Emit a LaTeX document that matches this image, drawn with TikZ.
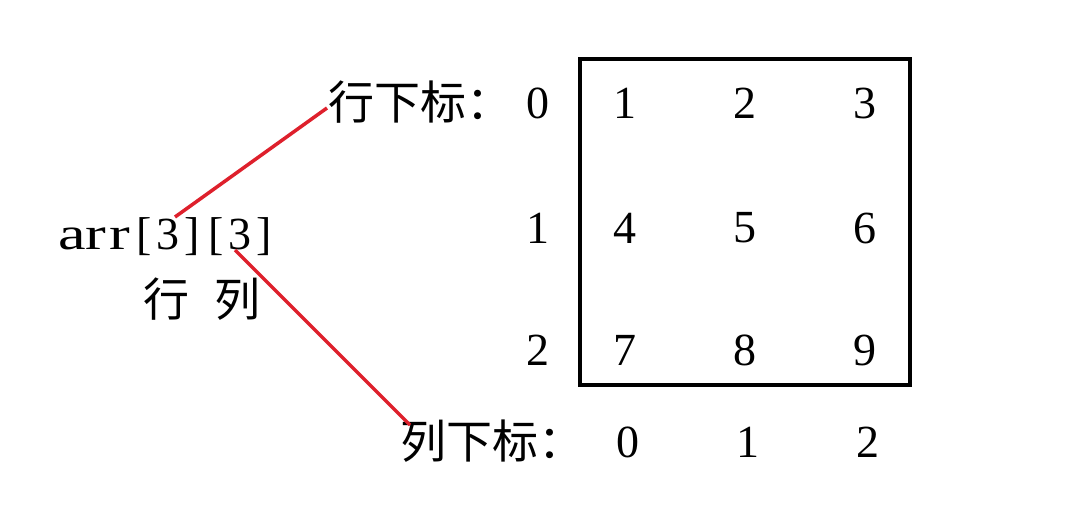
\documentclass[tikz,border=0pt]{standalone}
\usepackage{fontspec}
\setmainfont{Liberation Serif}
\newfontfamily\cjk{Noto Sans CJK SC}
\definecolor{linered}{RGB}{222,32,44}
\newcommand\mcell[1]{\makebox[24pt]{#1}}
\newcommand\wcell[1]{\makebox[24pt]{\scalebox{1.35}[1]{#1}}}
\begin{document}
\begin{tikzpicture}[x=1pt,y=-1pt,
  num/.style={inner sep=0pt,font=\fontsize{46}{46}\selectfont},
  zh/.style={inner sep=0pt,font=\cjk\fontsize{46}{46}\selectfont},
  code/.style={inner sep=0pt,font=\fontsize{46}{46}\selectfont},
  redline/.style={draw=linered,line width=3.5pt},
  frame/.style={draw=black,line width=4pt}]
\useasboundingbox[fill=white] (0,0) rectangle (1071,521);
% matrix frame
\node[frame,minimum width=330pt,minimum height=326pt,inner sep=0pt] (box) at (745,222) {};
% entries
\node[num] (e1) at (625,103) {1};
\node[num] (e2) at (745,103) {2};
\node[num] (e3) at (865,103) {3};
\node[num] (e4) at (625,228) {4};
\node[num] (e5) at (745,228) {5};
\node[num] (e6) at (865,228) {6};
\node[num] (e7) at (625,350) {7};
\node[num] (e8) at (745,350) {8};
\node[num] (e9) at (865,350) {9};
% row indices
\node[num] (r0) at (538,103) {0};
\node[num] (r1) at (538,228) {1};
\node[num] (r2) at (538,350) {2};
% column indices
\node[num] (c0) at (628,442) {0};
\node[num] (c1) at (748,442) {1};
\node[num] (c2) at (868,442) {2};
% labels
\node[zh,anchor=west] (rowlab) at (328,102) {行下标：};
\node[zh,anchor=west] (collab) at (400,441) {列下标：};
\node[code,anchor=base west] (arr) at (60,250) {\wcell{a}\wcell{r}\wcell{r}\mcell{[}\mcell{3}\mcell{]}\mcell{[}\mcell{3}\mcell{]}};
\node[zh] (hang) at (166,299) {行};
\node[zh] (lie) at (237,299) {列};
% connectors
\coordinate (a1) at (175,217);
\coordinate (a2) at (235,250);
\coordinate (t1) at (327,108);
\coordinate (t2) at (410,425);
\draw[redline] (a1) -- (t1);
\draw[redline] (a2) -- (t2);
\end{tikzpicture}
\end{document}
